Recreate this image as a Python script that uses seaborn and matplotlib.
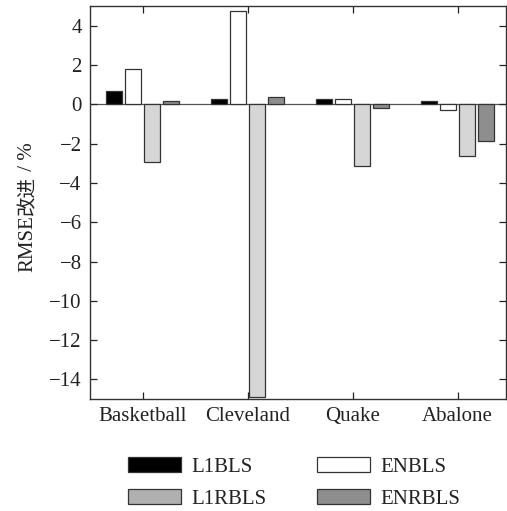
import matplotlib
matplotlib.use("Agg")
import matplotlib.pyplot as plt
from matplotlib.patches import Patch
import seaborn as sns
import pandas as pd

datasets = ["Basketball", "Cleveland", "Quake", "Abalone"]
methods = ["L1BLS", "ENBLS", "L1RBLS", "ENRBLS"]
l1bls = [0.68, 0.25, 0.25, 0.17]
enbls = [1.82, 4.74, 0.25, -0.27]
l1rbls = [-2.93, -14.9, -3.12, -2.62]
enrbls = [0.15, 0.39, -0.17, -1.84]
yticks = [4, 2, 0, -2, -4, -6, -8, -10, -12, -14]

colors = {"L1BLS": "#000000", "ENBLS": "#ffffff", "L1RBLS": "#d6d6d6", "ENRBLS": "#8e8e8e"}
legend_colors = {"L1BLS": "#000000", "ENBLS": "#ffffff", "L1RBLS": "#b0b0b0", "ENRBLS": "#8e8e8e"}

rows = []
for m, vals in zip(methods, [l1bls, enbls, l1rbls, enrbls]):
    for d, v in zip(datasets, vals):
        rows.append({"dataset": d, "method": m, "value": v})
df = pd.DataFrame(rows)

sns.set_style("ticks")
plt.rcParams["font.family"] = ["Liberation Serif", "Noto Sans CJK SC"]

FS = 15
fig = plt.figure(figsize=(5.07, 5.11), dpi=100)
ax = fig.add_axes([0.1775, 0.219, 0.8205, 0.769])

sns.barplot(data=df, x="dataset", y="value", hue="method", order=datasets,
            hue_order=methods, palette=colors, width=0.72, gap=0.167,
            edgecolor="#333333", linewidth=0.9, ax=ax, legend=False)

ax.set_ylim(-15, 5)
ax.set_xlim(-0.5, 3.46)
ax.set_yticks(yticks)
ax.set_yticklabels([str(t).replace("-", "\u2212") for t in yticks])
ax.axhline(0, color="#555555", linewidth=0.9, zorder=0.5)
ax.set_xlabel("")
ax.set_ylabel("")
ax.tick_params(axis="both", direction="in", top=True, right=True,
               labelsize=FS, colors="#222222", length=5, width=0.9)
ax.tick_params(axis="x", pad=6)
ax.tick_params(axis="y", pad=6)
for s in ax.spines.values():
    s.set_visible(True)
    s.set_color("#333333")
    s.set_linewidth(1.0)

# y label in two parts (avoid cross-font kerning overlap)
t1 = fig.text(28 / 507, 1 - 272 / 511, "RMSE", rotation=90, ha="center", va="bottom",
              fontsize=FS, color="#222222", family="Liberation Serif")
fig.canvas.draw()
bb = t1.get_window_extent(fig.canvas.get_renderer())
ytop = bb.y1 / fig.bbox.height
t2 = fig.text(28 / 507, ytop, "改进", rotation=90, ha="center", va="bottom",
              fontsize=FS - 1, color="#222222", family="Noto Sans CJK SC")
fig.canvas.draw()
bb2 = t2.get_window_extent(fig.canvas.get_renderer())
fig.text(28 / 507, bb2.y1 / fig.bbox.height, " / %", rotation=90, ha="center", va="bottom",
         fontsize=FS, color="#222222", family="Liberation Serif")

order = ["L1BLS", "L1RBLS", "ENBLS", "ENRBLS"]
handles = [Patch(facecolor=legend_colors[m], edgecolor="#333333", linewidth=0.9) for m in order]
fig.legend(handles, order, loc="center", bbox_to_anchor=(0.58, 0.055), ncol=2,
           frameon=False, fontsize=FS, handlelength=2.55, handleheight=0.7,
           columnspacing=2.4, handletextpad=0.5, labelspacing=0.6,
           labelcolor="#222222")

fig.savefig("out.png", dpi=100)
